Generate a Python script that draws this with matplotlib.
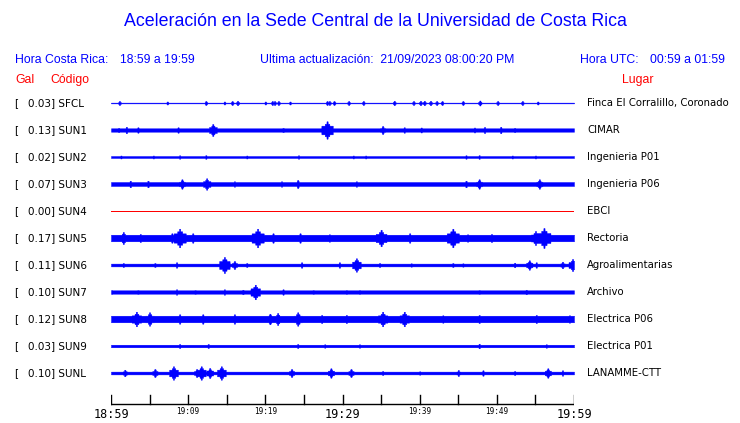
import numpy as np
import matplotlib
matplotlib.use("Agg")
import matplotlib.pyplot as plt

W, H = 740, 423
BLUE = "#0000ff"
RED = "#ff0000"

# ---------------- data ----------------
codes = ["SFCL", "SUN1", "SUN2", "SUN3", "SUN4", "SUN5",
         "SUN6", "SUN7", "SUN8", "SUN9", "SUNL"]
gal = [0.03, 0.13, 0.02, 0.07, 0.00, 0.17, 0.11, 0.10, 0.12, 0.03, 0.10]
places = ["Finca El Corralillo, Coronado", "CIMAR", "Ingenieria P01",
          "Ingenieria P06", "EBCI", "Rectoria", "Agroalimentarias",
          "Archivo", "Electrica P06", "Electrica P01", "LANAMME-CTT"]

# background half-amplitude of each trace (screen px)
base_amp = [0.4, 1.7, 1.0, 2.0, 0.0, 3.3, 1.4, 1.7, 3.3, 1.3, 1.4]

# bursts read from the record: minutes after 18:59 and half-amplitude (px)
ev_SFCL_t = [1.1, 7.3, 12.3, 14.7, 15.7, 16.4, 20.0, 20.9, 21.2, 21.7, 23.2, 28.0,
             28.3, 28.9, 30.8, 32.7, 36.7, 39.2, 40.1, 40.6, 41.4, 42.2, 42.9, 45.6,
             47.8, 50.1, 53.3, 55.3]
ev_SFCL_a = [2.0, 1.5, 2.0, 1.5, 2.0, 2.2, 1.5, 2.0, 2.0, 2.0, 1.5, 2.0,
             2.0, 2.0, 2.0, 2.0, 2.2, 2.0, 2.2, 2.2, 2.2, 2.0, 2.0, 2.0,
             2.5, 2.0, 2.0, 1.5]
ev_SUN1_t = [1.0, 2.0, 3.5, 8.7, 13.2, 22.3, 28.0, 35.2, 38.0, 40.2, 47.1, 48.4, 50.5, 52.3]
ev_SUN1_a = [2.2, 3.2, 2.7, 2.7, 6.0, 2.2, 8.7, 4.0, 2.7, 2.5, 2.5, 3.0, 3.2, 2.2]
ev_SUN2_t = [1.3, 5.5, 8.9, 12.3, 17.6, 24.3, 31.4, 33.0, 46.0, 47.7, 52.0, 55.0]
ev_SUN2_a = [1.5, 1.5, 1.7, 1.8, 1.5, 1.7, 1.5, 1.5, 1.7, 1.8, 1.5, 1.5]
ev_SUN3_t = [2.5, 4.8, 9.2, 12.4, 16.0, 22.1, 24.2, 31.8, 46.0, 47.7, 55.5]
ev_SUN3_a = [3.3, 3.3, 4.7, 5.7, 2.7, 2.7, 4.0, 2.7, 3.3, 4.7, 4.7]
ev_SUN4_t = []
ev_SUN4_a = []
ev_SUN5_t = [1.6, 3.8, 7.9, 8.9, 10.6, 19.0, 21.0, 24.5, 28.3, 35.0, 38.7, 44.3,
             46.2, 49.3, 55.0, 56.1]
ev_SUN5_a = [6.0, 4.0, 4.7, 9.3, 4.7, 9.3, 4.7, 4.7, 3.7, 8.3, 4.7, 9.3,
             3.7, 4.0, 7.0, 10.0]
ev_SUN6_t = [1.6, 5.7, 8.5, 14.7, 16.0, 17.6, 24.7, 29.6, 31.8, 34.8, 38.9, 44.3,
             45.6, 52.3, 54.2, 55.1, 58.5, 59.8]
ev_SUN6_a = [2.0, 2.0, 2.7, 8.0, 4.0, 2.0, 2.7, 2.7, 6.7, 2.0, 1.7, 2.0,
             1.7, 2.3, 4.7, 2.7, 3.3, 6.0]
ev_SUN7_t = [0.1, 3.5, 8.5, 10.9, 14.7, 17.1, 18.7, 22.3, 26.2, 30.5, 32.2, 34.8,
             37.2, 47.7, 53.8, 56.4]
ev_SUN7_a = [2.0, 2.0, 2.7, 2.0, 2.7, 2.3, 7.3, 2.7, 2.0, 2.0, 2.0, 1.7,
             1.7, 2.0, 2.3, 1.7]
ev_SUN8_t = [3.3, 5.0, 8.9, 11.9, 16.0, 20.6, 21.6, 24.2, 27.3, 30.5, 35.2, 38.0,
             43.0, 47.7, 55.1, 59.4]
ev_SUN8_a = [7.3, 6.7, 4.7, 4.7, 4.7, 5.3, 6.0, 6.7, 4.0, 4.0, 7.3, 7.3,
             3.7, 4.0, 4.0, 3.7]
ev_SUN9_t = [8.9, 12.6, 24.2, 27.7, 32.2, 47.7, 56.4]
ev_SUN9_a = [2.0, 2.0, 2.0, 1.7, 1.7, 2.3, 1.7]
ev_SUNL_t = [1.8, 5.7, 8.1, 11.1, 11.7, 12.8, 14.3, 23.4, 28.5, 31.1, 35.2, 40.0,
             45.0, 48.2, 52.3, 56.6, 58.5]
ev_SUNL_a = [3.3, 4.0, 6.7, 4.0, 6.7, 5.0, 6.7, 4.0, 4.7, 4.0, 2.0, 1.7,
             3.0, 2.7, 2.0, 4.7, 2.7]

events_t = [ev_SFCL_t, ev_SUN1_t, ev_SUN2_t, ev_SUN3_t, ev_SUN4_t, ev_SUN5_t,
            ev_SUN6_t, ev_SUN7_t, ev_SUN8_t, ev_SUN9_t, ev_SUNL_t]
events_a = [ev_SFCL_a, ev_SUN1_a, ev_SUN2_a, ev_SUN3_a, ev_SUN4_a, ev_SUN5_a,
            ev_SUN6_a, ev_SUN7_a, ev_SUN8_a, ev_SUN9_a, ev_SUNL_a]

tick_minutes = [0, 5, 10, 15, 20, 25, 30, 35, 40, 45, 50, 55, 60]
major_labels = {0: "18:59", 30: "19:29", 60: "19:59"}
minor_labels = {10: "19:09", 20: "19:19", 40: "19:39", 50: "19:49"}

# ---------------- layout ----------------
fig = plt.figure(figsize=(W / 100, H / 100), dpi=100)
X0, X1 = 111, 574
ax = fig.add_axes([X0 / W, 0, (X1 - X0) / W, 1])
ax.set_xlim(0, 60)
ax.set_ylim(H, 0)
ax.axis("off")


def ftext(x, y, s, **kw):
    fig.text(x / W, 1 - y / H, s, va="center", **kw)


ftext(375, 22, "Aceleración en la Sede Central de la Universidad de Costa Rica",
      ha="center", color=BLUE, fontsize=12.8, family="Liberation Sans")
hk = dict(color=BLUE, fontsize=8.8, family="Liberation Sans", ha="left")
ftext(15, 60, "Hora Costa Rica:", **hk)
ftext(120, 60, "18:59 a 19:59", **hk)
ftext(260, 60, "Ultima actualización:  21/09/2023 08:00:20 PM", **hk)
ftext(580, 60, "Hora UTC:", **hk)
ftext(650, 60, "00:59 a 01:59", **hk)
rk = dict(color=RED, fontsize=8.8, family="Liberation Sans", ha="left")
ftext(15, 80, "Gal", **rk)
ftext(50, 80, "Código", **rk)
ftext(622, 80, "Lugar", **rk)

tgrid = np.linspace(0, 60, 3000)
for i, code in enumerate(codes):
    yc = 103 + 27 * i
    ftext(14, yc, "[", fontsize=7.5, color="black")
    ftext(28, yc, f"{gal[i]:.2f}] {code}", fontsize=7.5, color="black")
    ftext(587, yc, places[i], fontsize=7.3, color="black")
    if base_amp[i] == 0 and not events_t[i]:
        ax.plot([0, 60], [yc, yc], color=RED, lw=0.7, antialiased=False)
        continue
    env = np.full_like(tgrid, base_amp[i])
    for t0, a in zip(events_t[i], events_a[i]):
        d = np.abs(tgrid - t0)
        shape = np.where(d < 0.08, a,
                np.where(d < 0.035 * a, 0.72 * a,
                np.where(d < 0.085 * a, 0.5 * a, 0.0)))
        env = np.maximum(env, shape)
    ax.fill_between(tgrid, yc - env, yc + env, color=BLUE, lw=0.3,
                    edgecolor=BLUE, antialiased=False)

# time axis
ax.plot([0, 60], [404, 404], color="black", lw=1)
for m in tick_minutes:
    ax.plot([m, m], [395, 404], color="black", lw=1)
for m, s in major_labels.items():
    ax.text(m, 415, s, ha="center", va="center", fontsize=8.5,
            family="DejaVu Sans Mono", color="black")
for m, s in minor_labels.items():
    ax.text(m, 412, s, ha="center", va="center", fontsize=5.5,
            family="DejaVu Sans Mono", color="black")

fig.savefig("out.png", dpi=100)
